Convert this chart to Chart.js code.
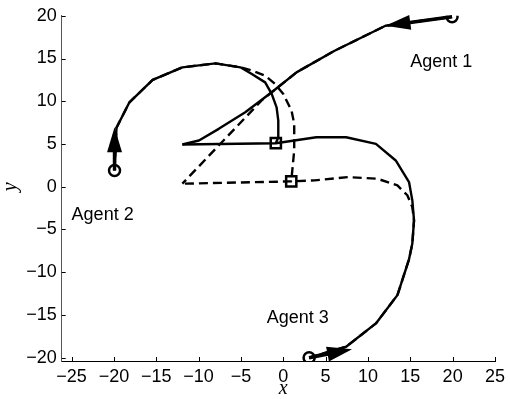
<!DOCTYPE html>
<html>
<head>
<meta charset="utf-8">
<script src="https://cdn.jsdelivr.net/npm/chart.js@4.4.1/dist/chart.umd.min.js"></script>
<style>
  html, body { margin: 0; padding: 0; background: #fff; }
  #wrap { width: 510px; height: 399px; }
</style>
</head>
<body>
<div id="wrap"><canvas id="c" width="510" height="399"></canvas></div>
<script>
// Tick values on both axes
const xTicks = [-25, -20, -15, -10, -5, 0, 5, 10, 15, 20, 25];
const yTicks = [-20, -15, -10, -5, 0, 5, 10, 15, 20];

// Trajectories, solid run ([x, y] pairs)
const agent1Solid = [[19.93, 19.89], [12.07, 18.83], [6.06, 15.91], [1.56, 13.38], [-1.37, 11.05],
  [-4.49, 8.71], [-7.62, 6.77], [-9.96, 5.41], [-11.92, 4.94]];
const agent2Solid = [[-19.93, 1.9], [-19.7, 6.9], [-18.17, 9.88], [-15.43, 12.49], [-11.92, 13.97],
  [-8.0, 14.43], [-5.07, 13.97], [-3.72, 13.19], [-2.14, 12.21], [-1.37, 10.86], [-0.79, 9.29],
  [-0.59, 7.74], [-0.59, 5.79], [-0.88, 5.09]];
const agent3Solid = [[3.05, -20.01], [7.42, -18.73], [10.94, -16.0], [13.48, -12.69], [14.85, -8.5],
  [15.24, -6.66], [15.44, -3.94], [15.24, -1.6], [14.85, 0.54], [13.28, 3.07], [10.94, 5.02],
  [7.42, 5.79], [3.9, 5.79], [-0.88, 5.09], [-11.92, 4.94]];

// Trajectories, dashed run
const agent1Dashed = [[19.93, 19.89], [12.07, 18.83], [6.06, 15.91], [1.56, 13.38], [-1.37, 11.05],
  [-2.5, 10.15], [-11.92, 0.35]];
const agent2Dashed = [[-19.93, 1.9], [-19.7, 6.9], [-18.17, 9.88], [-15.43, 12.49], [-11.92, 13.97],
  [-8.0, 14.43], [-5.07, 13.97], [-3.72, 13.6], [-2.14, 13.0], [-0.97, 12.03], [0, 10.86],
  [0.97, 8.91], [1.29, 7.36], [1.29, 4.24], [0.94, 0.62]];
const agent3Dashed = [[3.05, -20.01], [7.42, -18.73], [10.94, -16.0], [13.48, -12.69], [14.85, -8.5],
  [15.24, -6.66], [15.44, -3.94], [15.24, -2.39], [14.65, -1.0], [13.48, 0.15], [11.13, 0.93],
  [7.62, 1.12], [3.72, 0.74], [0.94, 0.62], [-11.92, 0.35]];

// Start positions (circles), initial heading tips (arrows), final points (squares)
const startPoints = [[19.93, 19.89], [-19.93, 1.9], [3.05, -20.01]];
const headingTips = [[12.07, 18.83], [-19.93, 6.96], [8.12, -19.03]];
const endPoints = [[-0.88, 5.09], [0.94, 0.62]];

// Agent names and where their captions sit (data coordinates, left/baseline)
const agentNames = ['Agent 1', 'Agent 2', 'Agent 3'];
const agentNameAnchors = [[15.0, 13.97], [-25.0, -3.93], [-1.96, -15.93]];

const SANS = '"Liberation Sans", Arial, Helvetica, sans-serif';
const SERIF = '"Liberation Serif", "Times New Roman", serif';

const toXY = arr => arr.map(([x, y]) => ({ x, y }));
const fmt = v => (v < 0 ? '\u2212' + Math.abs(v) : String(v));

const lineStyle = {
  showLine: true, pointRadius: 0, pointHoverRadius: 0, borderColor: '#000',
  borderWidth: 2.4, fill: false, tension: 0, borderJoinStyle: 'round'
};

const decor = {
  id: 'decor',
  afterDraw(chart) {
    const { ctx, chartArea: a } = chart;
    const xs = chart.scales.x, ys = chart.scales.y;
    ctx.save();
    // inward tick marks
    ctx.strokeStyle = '#000';
    ctx.lineWidth = 1;
    ctx.beginPath();
    xTicks.forEach(v => {
      const px = Math.round(xs.getPixelForValue(v)) + 0.5;
      ctx.moveTo(px, a.bottom); ctx.lineTo(px, a.bottom - 4);
    });
    yTicks.forEach(v => {
      const py = Math.round(ys.getPixelForValue(v)) + 0.5;
      ctx.moveTo(a.left, py); ctx.lineTo(a.left + 4, py);
    });
    ctx.stroke();

    // heading arrows from each start point
    ctx.fillStyle = '#000';
    headingTips.forEach((tip, i) => {
      const x0 = xs.getPixelForValue(startPoints[i][0]);
      const y0 = ys.getPixelForValue(startPoints[i][1]);
      const x1 = xs.getPixelForValue(tip[0]);
      const y1 = ys.getPixelForValue(tip[1]);
      const dx = x1 - x0, dy = y1 - y0, L = Math.hypot(dx, dy);
      const ux = dx / L, uy = dy / L;
      const hl = 25, hw = 7.5;
      const bx = x1 - ux * hl, by = y1 - uy * hl;
      ctx.lineWidth = 3.5;
      ctx.beginPath(); ctx.moveTo(x0, y0); ctx.lineTo(bx + ux * 2, by + uy * 2); ctx.stroke();
      ctx.beginPath();
      ctx.moveTo(x1, y1);
      ctx.lineTo(bx - uy * hw, by + ux * hw);
      ctx.lineTo(bx + uy * hw, by - ux * hw);
      ctx.closePath();
      ctx.fill();
    });

    // agent captions
    ctx.font = '18px ' + SANS;
    ctx.textAlign = 'left';
    ctx.textBaseline = 'alphabetic';
    agentNames.forEach((name, i) => {
      ctx.fillText(name, xs.getPixelForValue(agentNameAnchors[i][0]), ys.getPixelForValue(agentNameAnchors[i][1]));
    });

    // axis titles
    ctx.font = 'italic 20px ' + SERIF;
    ctx.textAlign = 'center';
    ctx.textBaseline = 'middle';
    ctx.fillText('x', xs.getPixelForValue(0), 389);
    ctx.translate(11, ys.getPixelForValue(0));
    ctx.rotate(-Math.PI / 2);
    ctx.fillText('y', 0, 0);
    ctx.restore();
  }
};

const tickFont = { family: SANS, size: 18 };

new Chart(document.getElementById('c'), {
  type: 'scatter',
  data: {
    datasets: [
      { ...lineStyle, data: toXY(agent1Dashed), borderDash: [9, 5] },
      { ...lineStyle, data: toXY(agent2Dashed), borderDash: [9, 5] },
      { ...lineStyle, data: toXY(agent3Dashed), borderDash: [9, 5] },
      { ...lineStyle, data: toXY(agent1Solid) },
      { ...lineStyle, data: toXY(agent2Solid) },
      { ...lineStyle, data: toXY(agent3Solid) },
      { data: toXY(startPoints), showLine: false, pointStyle: 'circle', pointRadius: 5.5,
        pointHoverRadius: 5.5, borderWidth: 2.5, borderColor: '#000', backgroundColor: 'rgba(0,0,0,0)' },
      { data: toXY(endPoints), showLine: false, pointStyle: 'rect', pointRadius: 7.2,
        pointHoverRadius: 7.2, borderWidth: 2.5, borderColor: '#000', backgroundColor: 'rgba(0,0,0,0)' }
    ]
  },
  options: {
    responsive: false,
    animation: false,
    events: [],
    layout: { padding: { top: 15, right: 10.7, bottom: 0, left: 0 } },
    plugins: { legend: { display: false }, tooltip: { enabled: false } },
    scales: {
      x: {
        type: 'linear', min: -26.17, max: 25.12,
        afterBuildTicks: s => { s.ticks = xTicks.map(v => ({ value: v })); },
        afterFit: s => { s.height = 38; },
        grid: { drawOnChartArea: false, drawTicks: false },
        border: { display: true, color: '#000', width: 1 },
        ticks: { padding: 5, color: '#000', font: tickFont, maxRotation: 0, autoSkip: false, callback: v => fmt(v) }
      },
      y: {
        type: 'linear', min: -20.4, max: 20.0,
        afterBuildTicks: s => { s.ticks = yTicks.map(v => ({ value: v })); },
        afterFit: s => { s.width = 61.7; },
        grid: { drawOnChartArea: false, drawTicks: false },
        border: { display: true, color: '#555', width: 1 },
        ticks: { padding: 5, color: '#000', font: tickFont, autoSkip: false, callback: v => fmt(v) }
      }
    }
  },
  plugins: [decor]
});
</script>
</body>
</html>
